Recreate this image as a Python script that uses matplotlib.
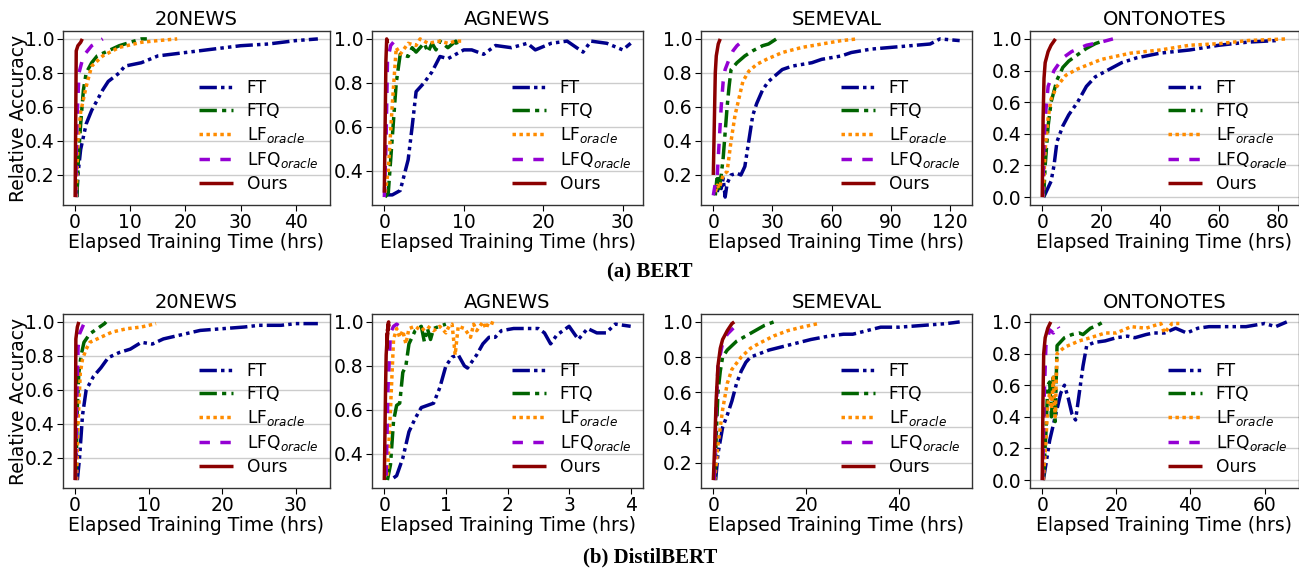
import matplotlib
matplotlib.use("Agg")
import matplotlib.pyplot as plt

# ---------------- data ----------------
series_names = ["FT", "FTQ", r"LF$_{oracle}$", r"LFQ$_{oracle}$", "Ours"]
panel_titles = ["20NEWS", "AGNEWS", "SEMEVAL", "ONTONOTES"]
row_captions = ["(a) BERT", "(b) DistilBERT"]

# BERT - 20NEWS
b20_ft_x = [0.3, 0.5, 1, 2, 3, 5, 6, 8, 9, 12, 15, 20, 25, 30, 35, 40, 44]
b20_ft_y = [0.07, 0.2, 0.35, 0.5, 0.58, 0.7, 0.75, 0.8, 0.84, 0.86, 0.9, 0.92, 0.94, 0.96, 0.97, 0.99, 1.0]
b20_ftq_x = [0.3, 0.6, 1, 1.5, 2, 3, 4, 6, 8, 10, 12, 13]
b20_ftq_y = [0.07, 0.3, 0.5, 0.7, 0.8, 0.86, 0.9, 0.93, 0.96, 0.98, 1.0, 1.0]
b20_lf_x = [0.2, 0.5, 1, 2, 3, 5, 8, 12, 15, 18.5]
b20_lf_y = [0.07, 0.4, 0.57, 0.72, 0.84, 0.9, 0.95, 0.98, 0.99, 1.0]
b20_lfq_x = [0.1, 0.3, 0.7, 1.5, 3, 5]
b20_lfq_y = [0.07, 0.5, 0.8, 0.9, 0.96, 1.0]
b20_ours_x = [0.0, 0.1, 0.2, 0.5, 1.0, 1.3]
b20_ours_y = [0.07, 0.5, 0.93, 0.96, 0.98, 1.0]

# BERT - AGNEWS
bag_ft_x = [0, 1, 2, 3, 3.5, 4, 5, 6, 7, 8, 9, 10, 11, 12.5, 14, 16, 18, 19, 21, 23, 25, 26, 28, 30, 31]
bag_ft_y = [0.29, 0.29, 0.31, 0.45, 0.6, 0.76, 0.8, 0.85, 0.92, 0.91, 0.93, 0.95, 0.95, 0.93, 0.97, 0.96, 0.98, 0.95, 0.98, 0.99, 0.94, 0.99, 0.98, 0.95, 0.98]
bag_ftq_x = [0.1, 0.5, 1, 1.5, 2, 3, 3.5, 4, 5, 5.5, 6, 6.5, 7, 8, 9, 9.2]
bag_ftq_y = [0.28, 0.3, 0.55, 0.8, 0.93, 0.92, 0.96, 0.94, 0.98, 0.94, 0.98, 0.95, 0.99, 0.96, 0.99, 0.97]
bag_lf_x = [0.1, 0.5, 1, 1.5, 2, 3, 4, 4.5, 5.5, 7, 8, 9, 10]
bag_lf_y = [0.3, 0.4, 0.7, 0.96, 0.93, 0.98, 0.97, 1.0, 0.98, 0.99, 0.98, 0.99, 0.99]
bag_lfq_x = [0.0, 0.2, 0.4, 0.8, 1.5]
bag_lfq_y = [0.28, 0.5, 0.9, 0.97, 1.0]
bag_ours_x = [0.0, 0.1, 0.2, 0.3, 0.4]
bag_ours_y = [0.3, 0.6, 0.9, 1.0, 0.98]

# BERT - SEMEVAL
bse_ft_x = [2, 3, 4, 5, 6, 7, 9, 12, 14, 16, 18, 20, 22, 25, 28, 32, 35, 40, 45, 50, 55, 60, 65, 70, 80, 90, 100, 110, 115, 125]
bse_ft_y = [0.1, 0.15, 0.12, 0.18, 0.07, 0.15, 0.2, 0.21, 0.2, 0.25, 0.4, 0.55, 0.62, 0.7, 0.75, 0.79, 0.82, 0.84, 0.85, 0.86, 0.88, 0.89, 0.9, 0.92, 0.94, 0.95, 0.96, 0.97, 1.0, 0.99]
bse_ftq_x = [1, 2, 3, 4, 5, 6, 7, 8, 9, 12, 16, 20, 25, 28, 32]
bse_ftq_y = [0.08, 0.2, 0.12, 0.2, 0.3, 0.45, 0.6, 0.72, 0.82, 0.86, 0.9, 0.93, 0.96, 0.97, 1.0]
bse_lf_x = [1, 2, 3, 5, 7, 9, 11, 13, 15, 18, 22, 27, 35, 45, 55, 65, 73]
bse_lf_y = [0.1, 0.14, 0.12, 0.2, 0.22, 0.4, 0.55, 0.65, 0.75, 0.81, 0.85, 0.88, 0.92, 0.95, 0.97, 0.99, 1.0]
bse_lfq_x = [0, 1, 2, 3, 4, 5, 6, 8, 10, 12, 14]
bse_lfq_y = [0.08, 0.15, 0.2, 0.4, 0.6, 0.75, 0.82, 0.88, 0.93, 0.96, 0.98]
bse_ours_x = [0.0, 0.5, 1.0, 1.5, 2.5, 3.5]
bse_ours_y = [0.2, 0.5, 0.8, 0.9, 0.97, 1.0]

# BERT - ONTONOTES
bon_ft_x = [0.5, 3, 4, 5, 7, 9, 12, 15, 18, 22, 27, 32, 40, 50, 60, 70, 80]
bon_ft_y = [0.0, 0.1, 0.2, 0.35, 0.45, 0.52, 0.6, 0.7, 0.76, 0.8, 0.85, 0.88, 0.91, 0.93, 0.96, 0.98, 0.99]
bon_ftq_x = [0.5, 1, 2, 3, 5, 7, 9, 12, 15, 18, 21]
bon_ftq_y = [0.0, 0.2, 0.45, 0.6, 0.74, 0.82, 0.86, 0.9, 0.94, 0.97, 0.99]
bon_lf_x = [0.3, 1, 2, 3, 5, 8, 12, 16, 20, 30, 40, 50, 60, 70, 83]
bon_lf_y = [0.0, 0.3, 0.5, 0.62, 0.7, 0.77, 0.81, 0.84, 0.87, 0.91, 0.93, 0.96, 0.97, 0.99, 1.0]
bon_lfq_x = [0.2, 0.5, 1, 2, 4, 7, 10, 15, 20, 24]
bon_lfq_y = [0.0, 0.3, 0.5, 0.7, 0.8, 0.88, 0.92, 0.96, 0.98, 1.0]
bon_ours_x = [0.0, 0.3, 0.6, 1.0, 2.0, 3.0, 4.5]
bon_ours_y = [0.0, 0.5, 0.75, 0.85, 0.92, 0.96, 1.0]

# DistilBERT - 20NEWS
d20_ft_x = [0.3, 0.6, 1, 1.5, 2.5, 3.5, 4.5, 6, 7.5, 9, 10.5, 12, 14, 17, 20, 23, 25, 28, 30, 33]
d20_ft_y = [0.07, 0.2, 0.45, 0.6, 0.68, 0.73, 0.79, 0.82, 0.84, 0.88, 0.87, 0.9, 0.92, 0.95, 0.96, 0.97, 0.98, 0.98, 0.99, 0.99]
d20_ftq_x = [0.1, 0.3, 0.5, 0.8, 1.2, 2, 3, 4, 4.2]
d20_ftq_y = [0.07, 0.5, 0.7, 0.8, 0.88, 0.93, 0.96, 0.99, 1.0]
d20_lf_x = [0.2, 0.4, 0.7, 1, 1.5, 2, 3, 4, 5, 7, 9, 11]
d20_lf_y = [0.07, 0.4, 0.7, 0.78, 0.84, 0.88, 0.9, 0.92, 0.94, 0.96, 0.97, 0.99]
d20_lfq_x = [0.05, 0.2, 0.4, 0.6, 1.0, 1.3]
d20_lfq_y = [0.07, 0.5, 0.85, 0.93, 0.97, 1.0]
d20_ours_x = [0.0, 0.05, 0.1, 0.3, 0.5]
d20_ours_y = [0.07, 0.5, 0.9, 0.97, 1.0]

# DistilBERT - AGNEWS
dag_ft_x = [0.15, 0.2, 0.3, 0.4, 0.5, 0.6, 0.7, 0.8, 0.9, 1.0, 1.1, 1.2, 1.3, 1.35, 1.5, 1.6, 1.7, 1.8, 1.9, 2.1, 2.5, 2.6, 2.7, 2.8, 3.0, 3.15, 3.3, 3.45, 3.6, 3.75, 4.0]
dag_ft_y = [0.29, 0.3, 0.38, 0.5, 0.56, 0.61, 0.62, 0.63, 0.7, 0.8, 0.84, 0.85, 0.8, 0.79, 0.85, 0.9, 0.93, 0.93, 0.96, 0.97, 0.97, 0.95, 0.9, 0.94, 0.98, 0.92, 0.97, 0.95, 0.95, 0.99, 0.98]
dag_ftq_x = [0.05, 0.1, 0.15, 0.2, 0.25, 0.3, 0.35, 0.4, 0.5, 0.6, 0.65, 0.7, 0.75, 0.8, 0.9, 1.0]
dag_ftq_y = [0.28, 0.35, 0.55, 0.62, 0.63, 0.77, 0.8, 0.9, 0.96, 0.98, 0.91, 0.97, 0.92, 0.97, 0.98, 0.99]
dag_lf_x = [0.05, 0.1, 0.15, 0.2, 0.25, 0.3, 0.35, 0.4, 0.5, 0.6, 0.7, 0.8, 0.9, 1.0, 1.05, 1.1, 1.15, 1.2, 1.3, 1.4, 1.45, 1.5, 1.6, 1.65, 1.7, 1.8]
dag_lf_y = [0.3, 0.6, 0.92, 0.97, 0.93, 0.96, 0.9, 0.97, 0.98, 0.96, 0.98, 0.96, 0.98, 0.95, 0.98, 0.99, 0.85, 0.98, 0.97, 0.93, 0.99, 0.96, 1.0, 0.97, 1.0, 0.99]
dag_lfq_x = [0.03, 0.06, 0.1, 0.15, 0.2, 0.25]
dag_lfq_y = [0.3, 0.7, 0.95, 0.98, 0.99, 0.98]
dag_ours_x = [0.0, 0.02, 0.03, 0.05, 0.04, 0.06, 0.07, 0.05, 0.08]
dag_ours_y = [0.28, 0.7, 0.85, 0.95, 0.88, 0.98, 1.0, 0.96, 0.99]

# DistilBERT - SEMEVAL
dse_ft_x = [0.5, 1, 2, 3, 4, 5, 6, 7, 8, 10, 12, 15, 18, 21, 25, 28, 30, 33, 36, 40, 45, 50, 53]
dse_ft_y = [0.1, 0.25, 0.4, 0.47, 0.55, 0.65, 0.72, 0.77, 0.8, 0.82, 0.84, 0.86, 0.88, 0.9, 0.92, 0.93, 0.93, 0.95, 0.97, 0.97, 0.98, 0.99, 1.0]
dse_ftq_x = [0.3, 0.7, 1, 1.5, 2, 3, 5, 7, 9, 11, 13]
dse_ftq_y = [0.1, 0.4, 0.6, 0.72, 0.8, 0.84, 0.89, 0.92, 0.95, 0.98, 1.0]
dse_lf_x = [0.3, 1, 2, 3, 4, 6, 8, 10, 13, 16, 19, 22.5]
dse_lf_y = [0.1, 0.3, 0.5, 0.65, 0.73, 0.8, 0.85, 0.88, 0.92, 0.95, 0.97, 0.99]
dse_lfq_x = [0.2, 0.6, 1, 2, 3, 4.5, 5.5]
dse_lfq_y = [0.1, 0.5, 0.75, 0.88, 0.93, 0.97, 0.99]
dse_ours_x = [0.0, 0.3, 0.6, 1.0, 1.5, 2.0, 3.0, 4.0, 4.5]
dse_ours_y = [0.1, 0.3, 0.55, 0.75, 0.85, 0.9, 0.95, 0.99, 1.0]

# DistilBERT - ONTONOTES
don_ft_x = [0.3, 1, 2, 3, 4, 5, 6, 7, 8, 9, 10, 11, 12, 14, 17, 20, 23, 25, 28, 30, 33, 36, 38, 39, 42, 45, 50, 55, 60, 63, 66]
don_ft_y = [0.0, 0.1, 0.25, 0.35, 0.45, 0.55, 0.6, 0.52, 0.42, 0.38, 0.55, 0.72, 0.85, 0.87, 0.88, 0.9, 0.91, 0.9, 0.92, 0.93, 0.93, 0.96, 0.94, 0.93, 0.96, 0.97, 0.97, 0.97, 0.99, 0.97, 1.0]
don_ftq_x = [0.3, 1, 1.5, 2, 2.5, 3, 3.5, 4, 6, 8, 10, 11, 13, 15, 16.5]
don_ftq_y = [0.0, 0.3, 0.6, 0.62, 0.4, 0.65, 0.37, 0.85, 0.9, 0.92, 0.93, 0.92, 0.96, 0.98, 1.0]
don_lf_x = [0.3, 1, 1.5, 2, 2.5, 3, 3.5, 4, 6, 8, 10, 13, 17, 20, 24, 28, 32, 33, 35, 37]
don_lf_y = [0.0, 0.25, 0.48, 0.55, 0.45, 0.65, 0.4, 0.8, 0.84, 0.86, 0.88, 0.9, 0.93, 0.93, 0.97, 0.96, 0.99, 0.93, 0.99, 0.99]
don_lfq_x = [0.1, 0.5, 1, 2, 3, 4, 4.5]
don_lfq_y = [0.0, 0.5, 0.85, 0.95, 0.93, 0.98, 0.96]
don_ours_x = [0.0, 0.2, 0.4, 0.8, 1.5, 2.3]
don_ours_y = [0.0, 0.5, 0.8, 0.9, 0.96, 1.0]

panels = [
    [  # BERT
        [(b20_ft_x, b20_ft_y), (b20_ftq_x, b20_ftq_y), (b20_lf_x, b20_lf_y), (b20_lfq_x, b20_lfq_y), (b20_ours_x, b20_ours_y)],
        [(bag_ft_x, bag_ft_y), (bag_ftq_x, bag_ftq_y), (bag_lf_x, bag_lf_y), (bag_lfq_x, bag_lfq_y), (bag_ours_x, bag_ours_y)],
        [(bse_ft_x, bse_ft_y), (bse_ftq_x, bse_ftq_y), (bse_lf_x, bse_lf_y), (bse_lfq_x, bse_lfq_y), (bse_ours_x, bse_ours_y)],
        [(bon_ft_x, bon_ft_y), (bon_ftq_x, bon_ftq_y), (bon_lf_x, bon_lf_y), (bon_lfq_x, bon_lfq_y), (bon_ours_x, bon_ours_y)],
    ],
    [  # DistilBERT
        [(d20_ft_x, d20_ft_y), (d20_ftq_x, d20_ftq_y), (d20_lf_x, d20_lf_y), (d20_lfq_x, d20_lfq_y), (d20_ours_x, d20_ours_y)],
        [(dag_ft_x, dag_ft_y), (dag_ftq_x, dag_ftq_y), (dag_lf_x, dag_lf_y), (dag_lfq_x, dag_lfq_y), (dag_ours_x, dag_ours_y)],
        [(dse_ft_x, dse_ft_y), (dse_ftq_x, dse_ftq_y), (dse_lf_x, dse_lf_y), (dse_lfq_x, dse_lfq_y), (dse_ours_x, dse_ours_y)],
        [(don_ft_x, don_ft_y), (don_ftq_x, don_ftq_y), (don_lf_x, don_lf_y), (don_lfq_x, don_lfq_y), (don_ours_x, don_ours_y)],
    ],
]

xticks = [
    [[0, 10, 20, 30, 40], [0, 10, 20, 30], [0, 30, 60, 90, 120], [0, 20, 40, 60, 80]],
    [[0, 10, 20, 30], [0, 1, 2, 3, 4], [0, 20, 40], [0, 20, 40, 60]],
]
yticks = [
    [[0.2, 0.4, 0.6, 0.8, 1.0], [0.4, 0.6, 0.8, 1.0], [0.2, 0.4, 0.6, 0.8, 1.0], [0.0, 0.2, 0.4, 0.6, 0.8, 1.0]],
    [[0.2, 0.4, 0.6, 0.8, 1.0], [0.4, 0.6, 0.8, 1.0], [0.2, 0.4, 0.6, 0.8, 1.0], [0.0, 0.2, 0.4, 0.6, 0.8, 1.0]],
]

# ---------------- style ----------------
colors = ["#00008B", "#006400", "#FF8C00", "#9400D3", "#8B0000"]
styles = [(0, (5, 1.2, 1, 1.2, 1, 1.2)), (0, (5, 1.5, 1.2, 1.5)), (0, (1, 1)), (0, (3, 3)), "-"]
lw = 2.5

plt.rcParams["font.family"] = ["DejaVu Sans"]
plt.rcParams["mathtext.fontset"] = "dejavusans"

fig = plt.figure(figsize=(12.99, 5.68), dpi=100)
W, H = 1299.0, 568.0
lefts = [63, 372, 701, 1030]
widths = [267, 271, 271, 269]
tops = [31, 314]
bottoms = [205, 488]

for r in range(2):
    for c in range(4):
        ax = fig.add_axes([lefts[c] / W, 1 - bottoms[r] / H, widths[c] / W, (bottoms[r] - tops[r]) / H])
        for s in range(5):
            xs, ys = panels[r][c][s]
            ax.plot(xs, ys, color=colors[s], linestyle=styles[s], lw=lw, label=series_names[s],
                    solid_capstyle="butt", dash_capstyle="butt")
        ax.set_xticks(xticks[r][c])
        ax.set_yticks(yticks[r][c])
        ax.set_yticklabels([f"{v:.1f}" for v in yticks[r][c]])
        ax.tick_params(labelsize=13.5, length=4, width=0.8, pad=2)
        ax.grid(axis="y", color="#cccccc", lw=1)
        ax.set_axisbelow(True)
        for sp in ax.spines.values():
            sp.set_color("#333333")
            sp.set_linewidth(1.0)
        ax.set_title(panel_titles[c], fontsize=14, pad=4)
        ax.set_xlabel("Elapsed Training Time (hrs)", fontsize=13.5, labelpad=0.5)
        if c == 0:
            ax.set_ylabel("Relative Accuracy", fontsize=13.5, labelpad=-2)
        ax.legend(loc="lower right", frameon=False, fontsize=12.3, labelspacing=0.3,
                  handlelength=2.0, borderaxespad=0.3)

fig.text(650 / W, 1 - 272 / H, row_captions[0], ha="center", va="center",
         fontsize=15, fontweight="bold", family="Liberation Serif")
fig.text(650 / W, 1 - 557 / H, row_captions[1], ha="center", va="center",
         fontsize=15, fontweight="bold", family="Liberation Serif")

fig.savefig("out.png", dpi=100)
